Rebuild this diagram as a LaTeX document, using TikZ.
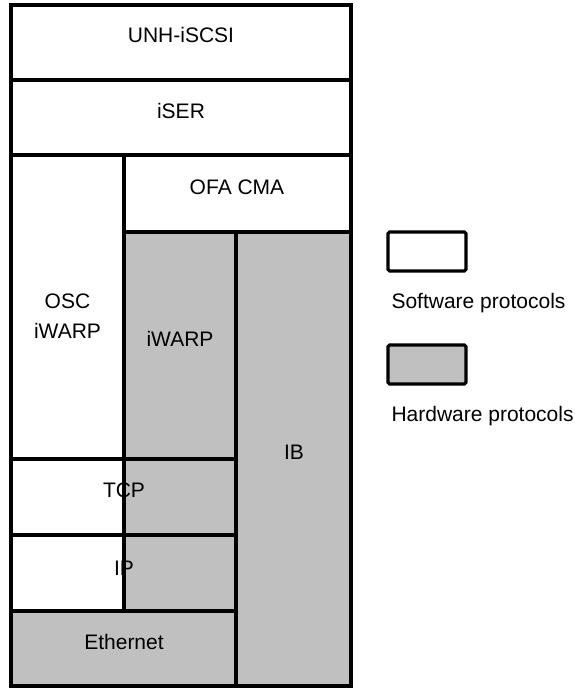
\documentclass[tikz,border=0pt]{standalone}
\usepackage{fontspec}
\setmainfont{Liberation Sans}
\usetikzlibrary{positioning}
\definecolor{hwfill}{HTML}{C0C0C0}

\begin{document}
\begin{tikzpicture}[x=0.75pt, y=-0.75pt, line width=2.3pt,
    lbl/.style={font=\fontsize{15.75}{22.5}\selectfont, inner sep=0pt, anchor=base},
    legbox/.style={draw, rounded corners=1.2pt}]
    \useasboundingbox (0,0) rectangle (574,688);
    % hardware parts
    \fill[hwfill] (124,232) rectangle (236,611);
    \fill[hwfill] (11,611) rectangle (236,686);
    \fill[hwfill] (236,232) rectangle (351,686);
    % layer borders
    \draw (11,5) rectangle (351,686);
    \foreach \y in {80,155}{
      \draw (11,\y) -- (351,\y);
    }
    \foreach \y in {459,535,611}{
      \draw (11,\y) -- (236,\y);
    }
    \draw (124,155) -- (124,611);
    \draw (124,232) -- (351,232);
    \draw[line width=3.6pt] (236,232) -- (236,686);
    % labels
    \node[lbl] (unh) at (181,43) {UNH-iSCSI};
    \node[lbl] (iser) at (181,119) {iSER};
    \node[lbl] (ofa) at (237,194) {OFA CMA};
    \node[lbl, align=center] (osc) at (67.5,338) {OSC\\iWARP};
    \node[lbl] (iwarp) at (180,346) {iWARP};
    \node[lbl] (ib) at (294,459) {IB};
    \node[lbl] (tcp) at (124,497) {TCP};
    \node[lbl] (ip) at (124,575) {IP};
    \node[lbl] (eth) at (124,649) {Ethernet};
    % legend
    \draw[legbox, fill=white] (388,232) rectangle (466,271);
    \node[lbl, anchor=base west] (swtext) at (390,308) {Software protocols};
    \draw[legbox, fill=hwfill] (388,345) rectangle (466,384);
    \node[lbl, anchor=base west] (hwtext) at (390,421) {Hardware protocols};
\end{tikzpicture}
\end{document}
